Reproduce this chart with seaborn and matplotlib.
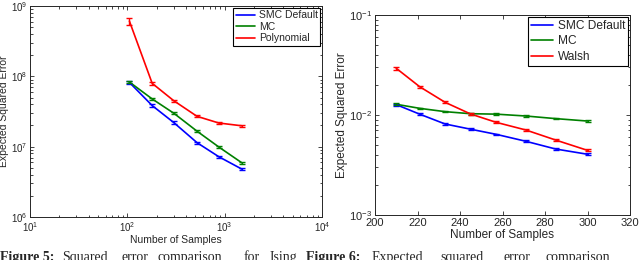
import numpy as np
import pandas as pd
import seaborn as sns
import matplotlib
matplotlib.use('Agg')
import matplotlib.pyplot as plt

# values
methods_ising = ['SMC Default', 'MC', 'Polynomial']
samples_ising = [105, 180, 300, 520, 870, 1500]
smc_ising = [8.2e7, 3.84e7, 2.2e7, 1.14e7, 7.2e6, 4.8e6]
mc_ising = [8.3e7, 4.77e7, 2.99e7, 1.66e7, 9.9e6, 5.9e6]
poly_ising = [6.1e8, 7.95e7, 4.5e7, 2.7e7, 2.17e7, 1.98e7]
smc_ising_err = [3e6, 1.5e6, 9e5, 4e5, 2.5e5, 1.8e5]
mc_ising_err = [3e6, 1.6e6, 1e6, 5e5, 3e5, 2e5]
poly_ising_err = [7.5e7, 3e6, 1.5e6, 8e5, 6e5, 5e5]

methods_walsh = ['SMC Default', 'MC', 'Walsh']
samples_walsh = [210, 221, 233, 245, 257, 271, 285, 300]
smc_walsh = [0.0127, 0.0102, 0.00813, 0.00721, 0.00641, 0.00546, 0.00457, 0.00405]
mc_walsh = [0.0128, 0.01166, 0.0108, 0.0103, 0.0102, 0.00977, 0.0092, 0.0087]
walsh_walsh = [0.0293, 0.0192, 0.01339, 0.01023, 0.00845, 0.00708, 0.00562, 0.00443]
smc_walsh_err = [0.0003, 0.0002, 0.00015, 0.00013, 0.00012, 0.0001, 0.00009, 0.00008]
mc_walsh_err = [0.0003, 0.00022, 0.0002, 0.0002, 0.0002, 0.00018, 0.00017, 0.00017]
walsh_walsh_err = [0.0009, 0.0005, 0.0003, 0.00022, 0.00018, 0.00015, 0.00012, 0.0001]

colors = ['#0000ff', '#008000', '#ff0000']

sns.set_style('ticks')
plt.rcParams['font.family'] = ['Liberation Sans', 'DejaVu Sans']
plt.rcParams['mathtext.fontset'] = 'custom'
plt.rcParams['mathtext.rm'] = 'Liberation Sans'
plt.rcParams['mathtext.it'] = 'Liberation Sans:italic'


def long_df(x, methods, ys):
    rows = []
    for m, y in zip(methods, ys):
        for xi, yi in zip(x, y):
            rows.append({'n': xi, 'err': yi, 'method': m})
    return pd.DataFrame(rows)


def draw(ax, x, methods, ys, errs, fs, lfs, lsp):
    df = long_df(x, methods, ys)
    sns.lineplot(data=df, x='n', y='err', hue='method', hue_order=methods,
                 palette=colors, linewidth=1.2, errorbar=None, ax=ax)
    for y, e, c in zip(ys, errs, colors):
        ax.errorbar(x, y, yerr=e, fmt='none', ecolor=c, elinewidth=1.0,
                    capsize=2.2, capthick=1.0)
    ax.set_yscale('log')
    ax.tick_params(which='both', direction='in', top=True, right=True,
                   labelsize=fs, length=3, width=0.6, pad=2)
    ax.tick_params(which='minor', length=1.8)
    for s in ax.spines.values():
        s.set_linewidth(0.7)
    ax.set_xlabel('Number of Samples', fontsize=fs + 0.5, labelpad=1)
    ax.set_ylabel('Expected Squared Error', fontsize=fs + 0.5, labelpad=1)
    ax.legend(loc='upper right', fontsize=lfs, frameon=True, fancybox=False,
              edgecolor='black', framealpha=1, borderaxespad=0.15,
              handlelength=1.8, handletextpad=0.4, labelspacing=lsp, borderpad=0.25)
    ax.get_legend().get_frame().set_linewidth(0.8)


fig = plt.figure(figsize=(6.4, 2.6), dpi=100)

ax1 = fig.add_axes([30 / 640, 43 / 260, 292 / 640, 211 / 260])
draw(ax1, samples_ising, methods_ising, [smc_ising, mc_ising, poly_ising],
     [smc_ising_err, mc_ising_err, poly_ising_err], 7, 7.5, 0.15)
ax1.set_xscale('log')
ax1.set_xlim(10, 1e4)
ax1.set_ylim(1e6, 1e9)

ax2 = fig.add_axes([375 / 640, 45 / 260, 255 / 640, 200 / 260])
draw(ax2, samples_walsh, methods_walsh, [smc_walsh, mc_walsh, walsh_walsh],
     [smc_walsh_err, mc_walsh_err, walsh_walsh_err], 8, 8.6, 0.3)
ax2.set_xlim(200, 320)
ax2.set_xticks(range(200, 321, 20))
ax2.set_ylim(1e-3, 1e-1)

# caption line along the bottom edge, cut by the page edge as in the source
caption = [('Figure 5:', 0, 'bold'), ('Squared', 62, 'normal'), ('error', 122, 'normal'),
           ('comparison', 158, 'normal'), ('for', 244, 'normal'), ('Ising', 270, 'normal'),
           ('Figure 6:', 306, 'bold'), ('Expected', 372, 'normal'), ('squared', 440, 'normal'),
           ('error', 503, 'normal'), ('comparison', 545, 'normal')]
for word, xpos, w in caption:
    fig.text(xpos / 640, 9 / 260, word, ha='left', va='top', fontsize=10,
             fontweight=w, family='Liberation Serif')

fig.savefig('out.png', dpi=100)
